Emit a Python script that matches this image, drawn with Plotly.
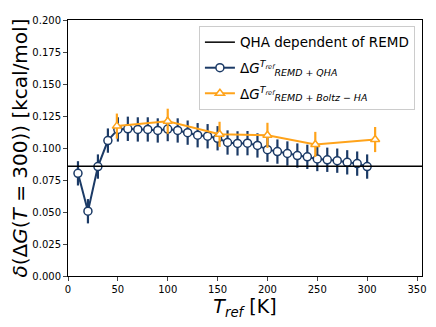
import plotly.graph_objects as go

# Blue series: REMD + QHA
t_qha = [10, 20, 30, 40, 50, 60, 70, 80, 90, 100, 110, 120, 130, 140, 150,
         160, 170, 180, 190, 200, 210, 220, 230, 240, 250, 260, 270, 280, 290, 300]
dg_qha = [0.0802, 0.0506, 0.0855, 0.1058, 0.1145, 0.1150, 0.1145, 0.1145, 0.1137, 0.1148,
          0.1137, 0.1120, 0.1100, 0.1092, 0.1076, 0.1043, 0.1036, 0.1038, 0.1020, 0.0987,
          0.0972, 0.0957, 0.0941, 0.0931, 0.0914, 0.0908, 0.0901, 0.0888, 0.0878, 0.0855]
err_qha = [0.0095] * len(t_qha)

# Orange series: REMD + Boltz-HA
t_bha = [49, 100, 152, 200, 248, 308]
dg_bha = [0.1171, 0.1209, 0.1107, 0.1099, 0.1028, 0.1066]
err_bha = [0.0098] * len(t_bha)

# Reference level
qha_level = 0.0858

navy = "#1b3a66"
orange = "#ffa31a"

fig = go.Figure()

fig.add_trace(go.Scatter(
    x=t_qha, y=dg_qha, mode="lines+markers",
    name="Δ<i>G</i><sup><i>T<sub>ref</sub></i></sup><sub><i>REMD + QHA</i></sub>",
    line=dict(color=navy, width=2),
    marker=dict(symbol="circle", size=8, color="white", line=dict(color=navy, width=1.5)),
    error_y=dict(type="data", array=err_qha, color=navy, thickness=2.2, width=0),
    legendrank=2, legendgroup="qha",
))

fig.add_trace(go.Scatter(
    x=t_bha, y=dg_bha, mode="lines+markers",
    name="Δ<i>G</i><sup><i>T<sub>ref</sub></i></sup><sub><i>REMD + Boltz − HA</i></sub>",
    line=dict(color=orange, width=2),
    marker=dict(symbol="triangle-up", size=8, color="white", line=dict(color=orange, width=1.5)),
    error_y=dict(type="data", array=err_bha, color=orange, thickness=2.2, width=0),
    legendrank=3, legendgroup="bha",
))

fig.add_shape(type="line", xref="paper", x0=0, x1=1, yref="y", y0=qha_level, y1=qha_level,
              line=dict(color="black", width=1.5), showlegend=True,
              name="QHA dependent of REMD", legendrank=1, legendgroup="level")

fig.update_layout(
    width=428, height=319,
    margin=dict(l=60, r=14, t=6, b=51),
    paper_bgcolor="white", plot_bgcolor="white",
    font=dict(family="DejaVu Sans", color="black"),
    showlegend=True,
    legend=dict(x=0.98, y=0.977, xanchor="right", yanchor="top",
                bgcolor="white", bordercolor="#cccccc", borderwidth=1,
                font=dict(size=13.5), traceorder="grouped", tracegroupgap=5),
    xaxis=dict(range=[0, 355], tickvals=[0, 50, 100, 150, 200, 250, 300, 350],
               showgrid=False, zeroline=False, showline=True, linecolor="black",
               linewidth=1, mirror=True, ticks="outside", ticklen=4,
               tickfont=dict(size=10),
               title=dict(text="<i>T<sub>ref</sub></i> [K]", font=dict(size=19), standoff=0)),
    yaxis=dict(range=[0, 0.2], tickvals=[0, 0.025, 0.05, 0.075, 0.1, 0.125, 0.15, 0.175, 0.2],
               tickformat=".3f",
               showgrid=False, zeroline=False, showline=True, linecolor="black",
               linewidth=1, mirror=True, ticks="outside", ticklen=4,
               tickfont=dict(size=10),
               title=dict(text="<i>δ</i>(Δ<i>G</i>(<i>T</i> = 300)) [kcal/mol]",
                          font=dict(size=20), standoff=2)),
)

fig.write_html("out.html")
